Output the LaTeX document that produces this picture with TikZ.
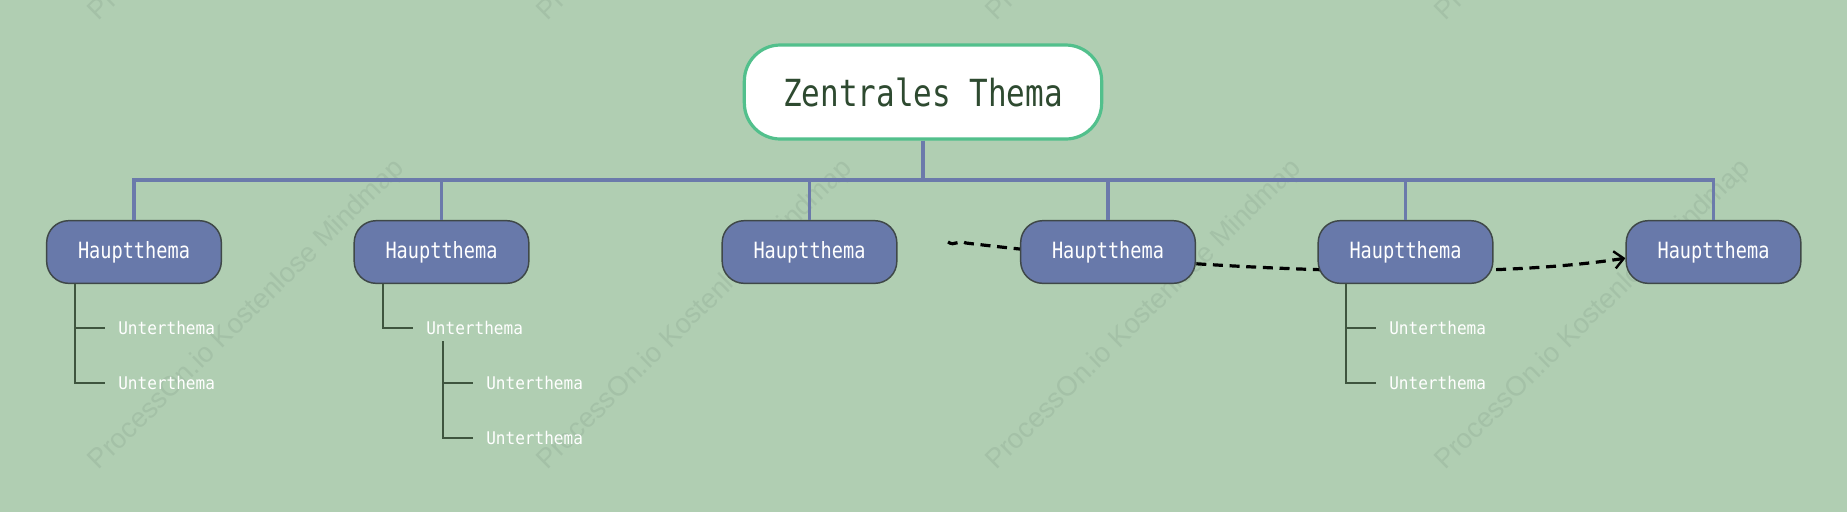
\documentclass[tikz,border=0pt]{standalone}
\usepackage{fontspec}
\usepackage{xcolor}
\usepackage{tikz}
\usetikzlibrary{arrows.meta, positioning}

\newfontfamily\zentralfont[FakeStretch=0.83]{DejaVu Sans Mono}
\newfontfamily\hauptfont[FakeStretch=0.83]{DejaVu Sans Mono}
\newfontfamily\unterfont[FakeStretch=0.92]{DejaVu Sans Mono}
\newfontfamily\markfont{Liberation Sans}

\definecolor{flaeche}{HTML}{B0CEB2}
\definecolor{wasserzeichen}{HTML}{A4C1A7}
\definecolor{zentralrand}{HTML}{52C08C}
\definecolor{zentraltext}{HTML}{2E4A30}
\definecolor{hauptblau}{HTML}{6879AA}
\definecolor{hauptrand}{HTML}{3F4848}
\definecolor{astblau}{HTML}{6B7AAB}
\definecolor{zweiggruen}{HTML}{3E553E}

\pgfdeclarelayer{papier}
\pgfdeclarelayer{unten}
\pgfsetlayers{papier,unten,main}

\begin{document}
\begin{tikzpicture}[
        x=0.75pt, y=-0.75pt,
        zentral/.style={draw=zentralrand, line width=2.4pt, fill=white, rounded corners=27pt, minimum width=268pt, minimum height=70.5pt, inner sep=0pt, text=zentraltext, font=\zentralfont\fontsize{28}{30}\selectfont},
        haupt/.style={draw=hauptrand, line width=1.1pt, fill=hauptblau, rounded corners=16.5pt, minimum width=131pt, minimum height=47pt, inner sep=0pt, text=white, font=\hauptfont\fontsize{16.8}{18}\selectfont},
        unter/.style={anchor=west, inner xsep=9.75pt, inner ysep=2pt, text=white, font=\unterfont\fontsize{13.1}{15}\selectfont},
        ast/.style={draw=astblau, line width=2.6pt},
        zweig/.style={draw=zweiggruen, line width=1.3pt},
        bezug/.style={line width=2.4pt, dash pattern=on 7.5pt off 5pt, -{Straight Barb[length=7pt, width=13pt, line width=1.8pt]}},
        wasser/.style={rotate=44.5, text=wasserzeichen, font=\markfont\fontsize{20.6}{22}\selectfont}
      ]
      \useasboundingbox (0,0) rectangle (1847,512);
      \begin{pgfonlayer}{papier}
        \fill[flaeche] (0,0) rectangle (1847,512);
        \node[wasser] (wz1) at (247,315)  {ProcessOn.io Kostenlose Mindmap};
        \node[wasser] (wz2) at (695,315)  {ProcessOn.io Kostenlose Mindmap};
        \node[wasser] (wz3) at (1144,315) {ProcessOn.io Kostenlose Mindmap};
        \node[wasser] (wz4) at (1593,315) {ProcessOn.io Kostenlose Mindmap};
        \node[wasser] (wz5) at (247,-134)  {ProcessOn.io Kostenlose Mindmap};
        \node[wasser] (wz6) at (695,-134)  {ProcessOn.io Kostenlose Mindmap};
        \node[wasser] (wz7) at (1144,-134) {ProcessOn.io Kostenlose Mindmap};
        \node[wasser] (wz8) at (1593,-134) {ProcessOn.io Kostenlose Mindmap};
      \end{pgfonlayer}

      % Zentrum und Hauptthemen
      \node[zentral] (zt) at (923,92) {Zentrales Thema};
      \node[haupt] (h1) at (134,252)    {Hauptthema};
      \node[haupt] (h2) at (441.5,252)  {Hauptthema};
      \node[haupt] (h3) at (809.5,252)  {Hauptthema};
      \node[haupt] (h4) at (1108,252)   {Hauptthema};
      \node[haupt] (h5) at (1405.5,252) {Hauptthema};
      \node[haupt] (h6) at (1713.5,252) {Hauptthema};

      \coordinate (gabel) at (923,180);
      \draw[ast] (zt.south) -- (gabel);
      \draw[ast] (h1.north) |- (gabel);
      \draw[ast] (h2.north) |- (gabel);
      \draw[ast] (h3.north) |- (gabel);
      \draw[ast] (h4.north) |- (gabel);
      \draw[ast] (h5.north) |- (gabel);
      \draw[ast] (h6.north) |- (gabel);

      % Unterthemen
      \node[unter] (u1a) at (105,328) {Unterthema};
      \node[unter] (u1b) at (105,383) {Unterthema};
      \node[unter] (u2)  at (413,328) {Unterthema};
      \node[unter] (u2a) at (473,383) {Unterthema};
      \node[unter] (u2b) at (473,438) {Unterthema};
      \node[unter] (u5a) at (1376,328) {Unterthema};
      \node[unter] (u5b) at (1376,383) {Unterthema};

      \coordinate (s1)  at (75,284);
      \coordinate (s2)  at (383,284);
      \coordinate (s2u) at (443,341);
      \coordinate (s5)  at (1346,284);
      \draw[zweig] (s1)  |- (u1a.west);
      \draw[zweig] (s1)  |- (u1b.west);
      \draw[zweig] (s2)  |- (u2.west);
      \draw[zweig] (s2u) |- (u2a.west);
      \draw[zweig] (s2u) |- (u2b.west);
      \draw[zweig] (s5)  |- (u5a.west);
      \draw[zweig] (s5)  |- (u5b.west);

      % Beziehung
      \coordinate (bezugstart) at (948,242);
      \begin{pgfonlayer}{unten}
        \draw[bezug] (bezugstart) .. controls (955,247) and (958,239) .. (966,243)
          .. controls (1150,265) and (1450,285) .. (h6.184);
      \end{pgfonlayer}
    \end{tikzpicture}
\end{document}
